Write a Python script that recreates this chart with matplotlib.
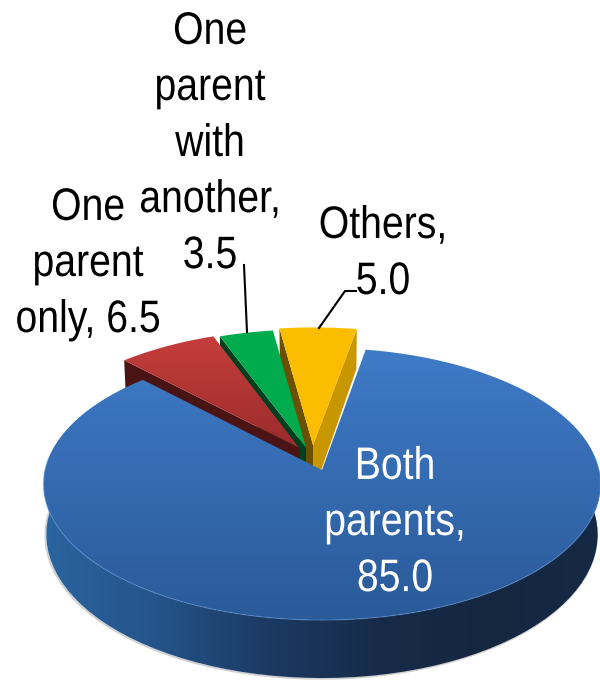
import numpy as np
import matplotlib
matplotlib.use("Agg")
import matplotlib.pyplot as plt
from matplotlib.patches import Polygon
from matplotlib.colors import LinearSegmentedColormap
from matplotlib.patheffects import AbstractPathEffect
from matplotlib.transforms import Affine2D

# data (clockwise from the top, starting at Others)
categories = ["Others", "One parent with another", "One parent only", "Both parents"]
values = [5.0, 3.5, 6.5, 85.0]
labels = ["Others,\n5.0", "One\nparent\nwith\nanother,\n3.5", "One\nparent\nonly, 6.5", "Both\nparents,\n85.0"]

# styles / layout
START = 80.0
CX, CY, A, R, K = 322.0, 470.0, 277.0, 134.6, 0.103
EXPLODE = [(-0.033, 0.189), (-0.059, 0.17), (-0.085, 0.17), (0.0, 0.0)]
TOP = [("#fbbd00", "#fbbd00"), ("#00ab4e", "#00ab4e"), ("#c63e3c", "#9a2b2b"), ("#3f7bc8", "#2a5a98")]
WALL = ["#c89700", "#00401f", "#4a1414", None]
WALL_L = ["#6b5000", None, None, None]
LABEL_POS = [(383, 254), (210, 144), (88, 264), (395, 523)]
LABEL_COL = ["black", "black", "black", "white"]
FONT = "Liberation Sans"
SQUEEZE = 0.86


class Squeeze(AbstractPathEffect):
    """Narrow a text around a vertical line, as the reference's condensed type."""

    def __init__(self, xc, f):
        super().__init__()
        self.xc, self.f = xc, f

    def draw_path(self, renderer, gc, tpath, affine, rgbFace=None):
        a = affine + Affine2D().translate(-self.xc, 0).scale(self.f, 1).translate(self.xc, 0)
        renderer.draw_path(gc, tpath, a, rgbFace)


def project(u, v):
    d = 1 + K * v
    return CX + A * u / d, CY - R * v / d


def top_pts(t, ex=(0, 0), r=1.0):
    t = np.radians(np.atleast_1d(t))
    return project(ex[0] + r * np.cos(t), ex[1] + r * np.sin(t))


def drop(x, y, v):
    """Lower edge of a wall, below a point of the top face."""
    return CX + (x - CX) * 0.99, y + 49.7 - 8.3 * v


def wall(ax, t0, t1, ex, color, z, radial=False):
    if radial:
        us = np.array([ex[0], ex[0] + np.cos(np.radians(t0))])
        vs = np.array([ex[1], ex[1] + np.sin(np.radians(t0))])
    else:
        t = np.radians(np.linspace(t0, t1, 100))
        us, vs = ex[0] + np.cos(t), ex[1] + np.sin(t)
    x, y = project(us, vs)
    xb, yb = drop(x, y, vs)
    pts = np.r_[np.c_[x, y], np.c_[xb, yb][::-1]]
    p = Polygon(pts, closed=True, fc=color or "none", ec="none", zorder=z)
    ax.add_patch(p)
    return p


def gradient(ax, patch, stops, extent, horizontal, z):
    cmap = LinearSegmentedColormap.from_list("g", stops)
    g = np.linspace(0, 1, 256)
    g = g[None, :] if horizontal else g[:, None]
    im = ax.imshow(g, cmap=cmap, extent=extent, aspect="auto", zorder=z, interpolation="bilinear")
    im.set_clip_path(patch)


fig = plt.figure(figsize=(6, 6.8), dpi=100)
ax = fig.add_axes([0, 0, 1, 1])
ax.set_axis_off()
ax.set_xlim(0, 600)
ax.set_ylim(680, 0)

edges = START + np.r_[0, np.cumsum(values)] * 3.6

# small, pulled-out slices: all walls first, then the faces over them
for i in [0, 1, 2]:
    t0, t1 = edges[i], edges[i + 1]
    ex = EXPLODE[i]
    if WALL_L[i]:
        wall(ax, t1, t1, ex, WALL_L[i], 2, radial=True)
        wall(ax, t0, t0, ex, WALL[i], 2, radial=True)
    else:
        wall(ax, t1, t1, ex, WALL[i], 2, radial=True)
for i in [0, 1, 2]:
    t0, t1 = edges[i], edges[i + 1]
    ex = EXPLODE[i]
    z = 3 + i
    t = np.linspace(t0, t1, 60)
    x, y = top_pts(t, ex)
    ax0, ay0 = project(ex[0], ex[1])
    p = Polygon(np.r_[[[ax0, ay0]], np.c_[x, y]], closed=True, fc="none", ec="none", zorder=z)
    ax.add_patch(p)
    gradient(ax, p, TOP[i], (x.min() - 2, max(x.max(), ax0) + 2, ay0 + 2, y.min() - 2), False, z)

# large slice: shadow, side wall, face
t = np.linspace(edges[3], edges[4], 500)
tr = np.radians(t)
x, y = top_pts(t)
vs = np.sin(tr)
xb, yb = drop(x, y, vs)
front = (vs < 0.1)
ax.plot(xb[front] - 0.9, yb[front] + 0.7, color="#8a8a8a", lw=1.4, alpha=0.4, zorder=7, solid_capstyle="round")
w = wall(ax, edges[3], edges[4], (0, 0), None, 8)
gradient(ax, w, ["#2b649f", "#25548a", "#1c3a63", "#172b49", "#15273f", "#162a45"],
         (44, 600, 680, 470), True, 8)
ax0, ay0 = project(0, 0)
face = Polygon(np.r_[[[ax0, ay0]], np.c_[x, y]], closed=True, fc="none", ec="none", zorder=9)
ax.add_patch(face)
gradient(ax, face, TOP[3], (40, 604, 622, 345), False, 9)
ax.plot(x[front], y[front], color="#5f97dc", lw=0.9, alpha=0.45, zorder=9.5)

# leader lines
ax.plot([244, 247], [265, 332], color="black", lw=1.5, zorder=10)
ax.plot([319, 345, 356], [328, 291, 291], color="black", lw=1.5, zorder=10)

# labels
fig.canvas.draw()
for lab, (lx, ly), c in zip(labels, LABEL_POS, LABEL_COL):
    xc = ax.transData.transform((lx, ly))[0]
    ax.text(lx, ly, lab, color=c, ha="center", va="center", multialignment="center",
            family=FONT, fontsize=32.8, linespacing=1.355, zorder=11,
            path_effects=[Squeeze(xc, SQUEEZE)])

fig.savefig("out.png", dpi=100)
